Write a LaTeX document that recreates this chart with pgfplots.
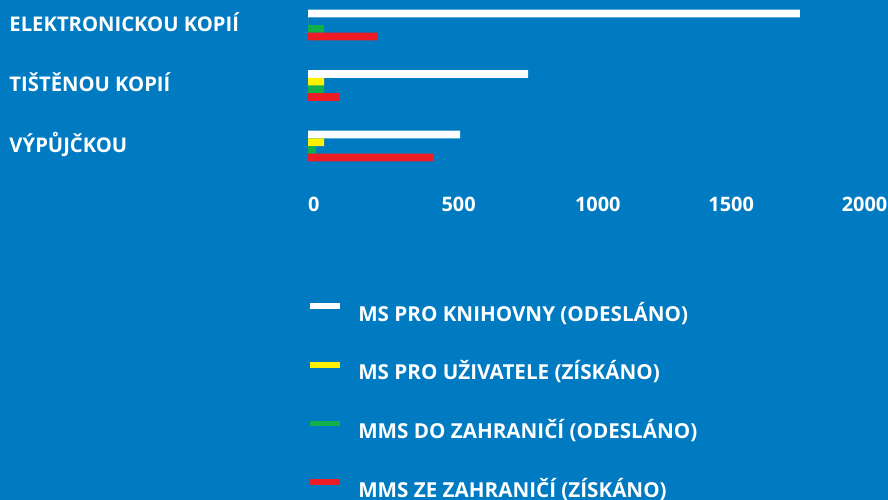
\documentclass[border=0pt]{standalone}
\usepackage{pgfplots}
\pgfplotsset{compat=1.18}
\usepackage{fontspec}
\setmainfont{Open Sans}
\definecolor{bg}{RGB}{0,122,193}
\definecolor{cwhite}{RGB}{255,255,255}
\definecolor{cyellow}{RGB}{255,242,0}
\definecolor{cgreen}{RGB}{17,176,74}
\definecolor{cred}{RGB}{237,28,36}
\newcommand{\chartfont}{\fontsize{20}{24}\selectfont\bfseries}
\newcommand{\catfont}{\fontsize{20.3}{24}\selectfont\bfseries}
\newcommand{\legfont}{\fontsize{20.7}{24}\selectfont\bfseries}
\begin{document}
\begin{tikzpicture}
\path[use as bounding box, fill=bg] (0,0) rectangle (888bp,500bp);
\begin{axis}[
  at={(308bp,323.75bp)}, anchor=south west,
  scale only axis, width=533.6bp, height=181.5bp,
  xmin=0, xmax=2000, ymin=-0.5, ymax=2.5,
  xbar, bar width=7.7bp,
  axis line style={draw=none}, major tick length=0pt,
  xtick={0,500,1000,1500,2000}, xticklabels={0,500,1000,1500,2000},
  ytick={0,1,2}, yticklabels={VÝPŮJČKOU, TIŠTĚNOU KOPIÍ, ELEKTRONICKOU KOPIÍ},
  ticklabel style={font=\chartfont, text=white, inner sep=0pt},
  xticklabel style={anchor=base west, yshift=-35.45bp},
  yticklabel style={font=\catfont, anchor=base west, xshift=-298.7bp, yshift=-6bp},
  legend style={at={(axis description cs:0,0)}, anchor=north west,
    xshift=2bp, yshift=-126.75bp, draw=none, fill=none,
    inner sep=0pt, outer sep=0pt, row sep=35.7bp, column sep=18.3bp,
    font=\legfont, text=white,
    nodes={inner sep=0pt, text height=18bp, text depth=5bp, anchor=base west},
    cells={anchor=base west}},
  legend image code/.code={\fill[#1] (0bp,12bp) rectangle (30bp,17.7bp);},
  clip=false,
]
\addplot[fill=cwhite, draw=none, bar shift=11.55bp] coordinates {(570,0) (825,1) (1844,2)};
\addplot[fill=cyellow, draw=none, bar shift=3.85bp] coordinates {(60,0) (60,1) (0,2)};
\addplot[fill=cgreen, draw=none, bar shift=-3.85bp] coordinates {(30,0) (60,1) (60,2)};
\addplot[fill=cred, draw=none, bar shift=-11.55bp] coordinates {(469,0) (116,1) (259,2)};
\legend{MS PRO KNIHOVNY (ODESLÁNO), MS PRO UŽIVATELE (ZÍSKÁNO), MMS DO ZAHRANIČÍ (ODESLÁNO), MMS ZE ZAHRANIČÍ (ZÍSKÁNO)}
\end{axis}
\end{tikzpicture}
\end{document}
